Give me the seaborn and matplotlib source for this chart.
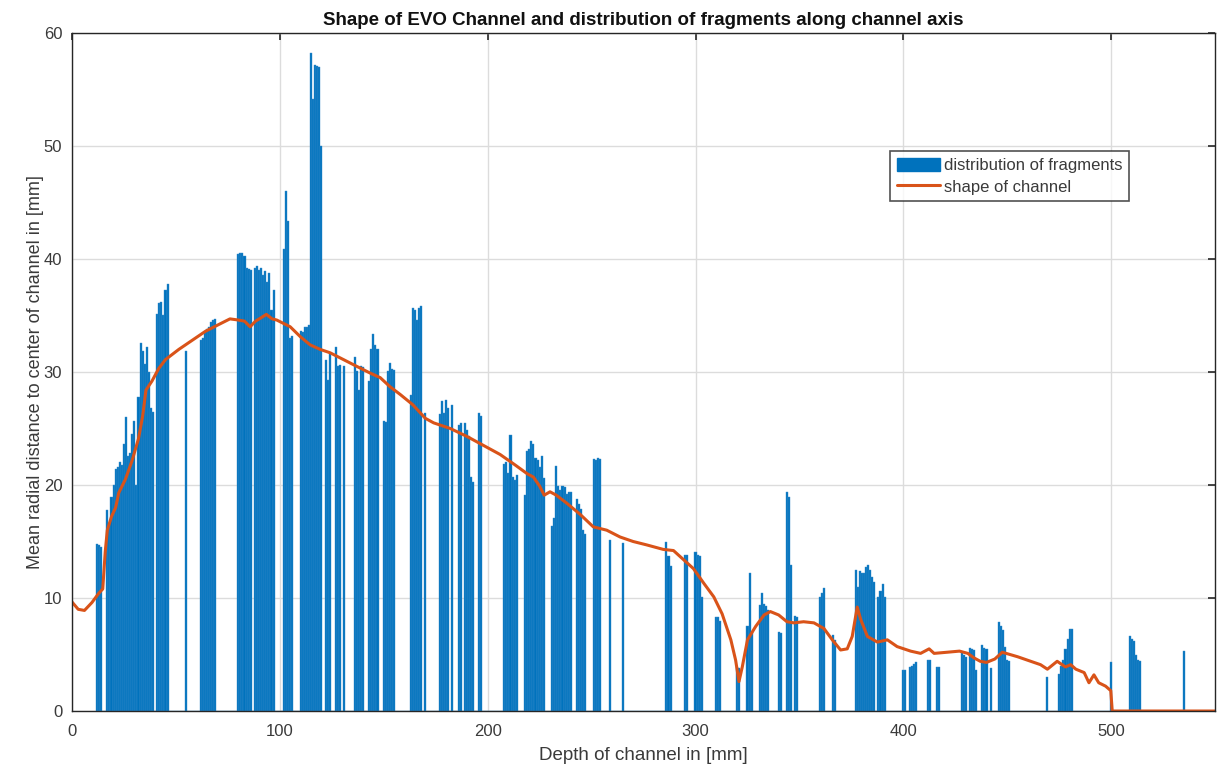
import numpy as np
import pandas as pd
import matplotlib
matplotlib.use("Agg")
import matplotlib.pyplot as plt
import seaborn as sns
from matplotlib.patches import Patch
from matplotlib.lines import Line2D

# ---------------- data ----------------
frag_depth = [
    12, 13, 14,
    17, 18, 19, 20, 21, 22, 23, 24, 25, 26, 27, 28, 29, 30, 31, 32, 33, 34, 35, 36, 37, 38, 39,
    41, 42, 43, 44, 45, 46,
    55,
    62, 63, 64, 65, 66, 67, 68, 69,
    80, 81, 82, 83, 84, 85, 86,
    88, 89, 90, 91, 92, 93, 94, 95, 96, 97,
    102, 103, 104, 105, 106,
    110, 111, 112, 113, 114,
    115, 116, 117, 118, 119, 120,
    122, 123, 124,
    127, 128, 129,
    131,
    136, 137, 138, 139, 140,
    143, 144, 145, 146, 147,
    150, 151, 152, 153, 154, 155,
    163, 164, 165, 166, 167, 168,
    170,
    177, 178, 179, 180, 181,
    183,
    186, 187,
    189, 190, 191,
    192, 193,
    196, 197,
    208, 209, 210, 211, 212, 213, 214,
    218, 219, 220, 221, 222, 223, 224, 225, 226, 227,
    231, 232, 233, 234, 235, 236, 237, 238, 239, 240,
    243, 244, 245, 246, 247,
    251, 252, 253, 254,
    259,
    265,
    286, 287, 288,
    295, 296,
    300, 301, 302, 303,
    310, 311, 312,
    320, 321,
    325, 326, 327,
    331, 332, 333, 334, 335,
    340, 341,
    344, 345, 346,
    348, 349,
    360, 361, 362,
    366, 367,
    377, 378, 379, 380, 381, 382, 383, 384, 385, 386,
    388, 389, 390, 391,
    400, 401,
    403, 404, 405, 406,
    412, 413,
    416, 417,
    428, 429, 430,
    432, 433, 434, 435,
    438, 439, 440,
    442,
    446, 447, 448, 449, 450, 451,
    469,
    475, 476, 477, 478, 479, 480, 481,
    500,
    509, 510, 511, 512, 513, 514,
    535,
]
frag_value = [
    14.8, 14.7, 14.5,
    17.8, 16.4, 18.9, 20.0, 21.4, 21.6, 22.0, 21.8, 23.6, 26.0, 22.6, 22.8, 24.5, 25.7, 20.0, 27.8, 32.6, 31.9, 30.7, 32.2, 30.0, 26.8, 26.5,
    35.1, 36.1, 36.2, 35.0, 37.3, 37.8,
    31.9,
    32.8, 33.0, 33.5, 33.8, 34.0, 34.4, 34.6, 34.7,
    40.4, 40.5, 40.5, 40.3, 39.2, 39.1, 39.0,
    39.2, 39.4, 39.0, 39.2, 38.6, 38.9, 38.0, 38.8, 35.5, 37.3,
    40.9, 46.0, 43.4, 33.0, 33.2,
    33.6, 33.5, 34.0, 34.0, 34.2,
    58.2, 54.2, 57.2, 57.1, 57.0, 50.0,
    31.1, 29.3, 31.7,
    32.2, 30.5, 30.6,
    30.5,
    31.3, 30.1, 28.4, 30.5, 30.4,
    29.2, 32.0, 33.4, 32.4, 32.0,
    25.7, 25.6, 30.1, 30.8, 30.3, 30.2,
    28.0, 35.7, 35.5, 34.6, 35.7, 35.8,
    26.4,
    26.3, 27.4, 26.4, 27.5, 26.8,
    27.1,
    25.3, 25.5,
    25.5, 24.9, 24.3,
    20.7, 20.3,
    26.4, 26.1,
    21.9, 22.0, 21.1, 24.4, 20.7, 20.4, 20.9,
    19.1, 23.0, 23.2, 23.9, 23.6, 22.4, 22.2, 21.6, 22.6, 20.6,
    16.4, 17.1, 21.7, 19.9, 19.6, 19.9, 19.8, 19.2, 19.4, 19.4,
    18.8, 18.3, 17.9, 16.0, 15.7,
    22.3, 22.2, 22.4, 22.3,
    15.1,
    14.9,
    15.0, 13.7, 12.8,
    13.8, 13.8,
    14.1, 13.8, 13.7, 10.1,
    8.3, 8.3, 8.0,
    3.9, 3.8,
    7.5, 12.2, 7.0,
    9.4, 10.4, 9.5, 9.3, 8.9,
    7.0, 6.9,
    19.4, 18.9, 12.9,
    8.4, 8.3,
    10.1, 10.4, 10.9,
    6.7, 6.3,
    12.5, 11.0, 12.4, 12.2, 12.2, 12.7, 12.9, 12.5, 11.9, 11.4,
    10.1, 10.6, 11.2, 10.1,
    3.6, 3.6,
    3.9, 4.0, 4.2, 4.3,
    4.5, 4.5,
    3.9, 3.9,
    5.1, 5.0, 4.8,
    5.6, 5.5, 5.4, 3.6,
    5.8, 5.6, 5.5,
    3.8,
    7.9, 7.5, 7.2, 5.7, 4.5, 4.4,
    3.0,
    3.3, 4.0, 4.5, 5.5, 6.4, 7.3, 7.3,
    4.3,
    6.6, 6.4, 6.2, 5.0, 4.5, 4.4,
    5.3,
]

channel_depth = [
    0, 3, 6, 9.6, 12.8, 14.8, 16, 17, 19, 21, 22.5, 25.7, 29, 32, 34, 35.6, 38.5, 41.7, 45,
    51.4, 57.8, 64.2, 70.6, 76, 80, 83, 85.7, 88.3, 91, 93.5, 96.3, 98.5, 105, 110, 114.6,
    119.4, 124.2, 130.6, 137, 143.5, 148.3, 153, 158, 164, 170, 174, 182, 190, 198, 206,
    213, 219, 222, 225, 227.2, 230, 233, 238, 244.5, 250.8, 257.3, 263.7, 270, 276.5, 284.5,
    289.4, 294.2, 299, 304, 308.8, 312.8, 317, 319.3, 320.9, 322.5, 325, 329, 333, 336, 340,
    344, 347.4, 352, 357, 361.8, 365.8, 369.8, 373, 375.4, 377.8, 379.5, 382.7, 387.5, 392.3,
    397, 403.5, 408.3, 412.4, 414.8, 421, 427, 431, 434, 437, 440, 444, 447.6, 455, 459.7,
    466, 469.3, 474, 478, 480.5, 483, 487, 489.3, 491.7, 494, 497.3, 499.8, 500.5, 550,
]
channel_radius = [
    9.65, 9.0, 8.9, 9.6, 10.4, 10.8, 14.1, 16.0, 17.2, 18.0, 19.3, 20.5, 22.2, 24.1, 26.1, 28.4, 29.2, 30.3, 31.1,
    32.0, 32.8, 33.6, 34.2, 34.7, 34.6, 34.5, 34.0, 34.5, 34.8, 35.1, 34.7, 34.6, 34.0, 33.1, 32.4,
    32.0, 31.7, 31.1, 30.5, 29.9, 29.5, 28.7, 28.0, 27.1, 25.9, 25.5, 25.0, 24.3, 23.5, 22.7,
    21.8, 21.0, 20.7, 19.9, 19.1, 19.4, 19.1, 18.4, 17.4, 16.3, 16.0, 15.4, 15.0, 14.7, 14.3,
    14.2, 13.4, 12.6, 11.3, 10.1, 8.6, 6.3, 4.5, 2.6, 3.9, 6.3, 7.5, 8.5, 8.8, 8.5,
    7.9, 7.8, 7.9, 7.8, 7.3, 6.3, 5.4, 5.5, 6.6, 9.2, 8.1, 6.6, 6.1, 6.3,
    5.7, 5.3, 5.1, 5.5, 5.1, 5.2, 5.3, 5.1, 4.7, 4.4, 4.3, 4.6, 5.2, 4.8, 4.5,
    4.1, 3.7, 4.4, 3.9, 4.1, 3.7, 3.4, 2.5, 3.2, 2.5, 2.2, 1.8, 0.0, 0.0,
]

x_ticks = [0, 100, 200, 300, 400, 500]
y_ticks = [0, 10, 20, 30, 40, 50, 60]
title_text = "Shape of EVO Channel and distribution of fragments along channel axis"
x_label = "Depth of channel in [mm]"
y_label = "Mean radial distance to center of channel in [mm]"
legend_labels = ["distribution of fragments", "shape of channel"]

# ---------------- style ----------------
sns.set_style("white")
plt.rcParams["font.family"] = ["Liberation Sans", "DejaVu Sans"]

BLUE = "#0072BD"
ORANGE = "#D95319"
TXT = "#3a3a3a"

fig = plt.figure(figsize=(12.2, 7.67), dpi=100)
ax = fig.add_axes([0.059, 0.073, 0.937, 0.884])

frag = pd.DataFrame({"depth": frag_depth, "value": frag_value})
chan = pd.DataFrame({"depth": channel_depth, "radius": channel_radius})

sns.histplot(data=frag, x="depth", weights="value", discrete=True, shrink=1.0,
             color=BLUE, alpha=1.0, edgecolor="#3d8fcc", linewidth=0.3, ax=ax)
sns.lineplot(data=chan, x="depth", y="radius", color=ORANGE, linewidth=2.2,
             sort=False, estimator=None, ax=ax)

ax.set_xlim(0, 550)
ax.set_ylim(0, 60)
ax.set_xticks(x_ticks)
ax.set_yticks(y_ticks)
ax.grid(True, color="#dcdcdc", linewidth=1.0)
ax.set_axisbelow(True)
ax.tick_params(direction="in", top=True, right=True, length=5, width=1.2,
               colors="#262626", labelsize=12, labelcolor=TXT)
ax.tick_params(axis="x", pad=9)
ax.tick_params(axis="y", pad=7)
for s in ax.spines.values():
    s.set_visible(True)
    s.set_color("#262626")
    s.set_linewidth(1.0)

ax.set_xlabel(x_label, fontsize=13.5, color=TXT, labelpad=6)
ax.set_ylabel(y_label, fontsize=13, color=TXT, labelpad=0)
ax.set_title(title_text, fontsize=13.5, fontweight="bold", color="#111111", pad=6)

handles = [Patch(facecolor=BLUE, edgecolor=BLUE),
           Line2D([0], [0], color=ORANGE, linewidth=2.2)]
leg = ax.legend(handles, legend_labels, loc="upper left", bbox_to_anchor=(0.716, 0.826),
                frameon=True, fancybox=False, shadow=False, fontsize=12,
                handlelength=2.6, handleheight=0.9, handletextpad=0.2,
                borderpad=0.4, labelspacing=0.35, borderaxespad=0)
leg.get_frame().set_edgecolor("#262626")
leg.get_frame().set_linewidth(1.2)
for t in leg.get_texts():
    t.set_color(TXT)

fig.savefig("out.png", dpi=100)
